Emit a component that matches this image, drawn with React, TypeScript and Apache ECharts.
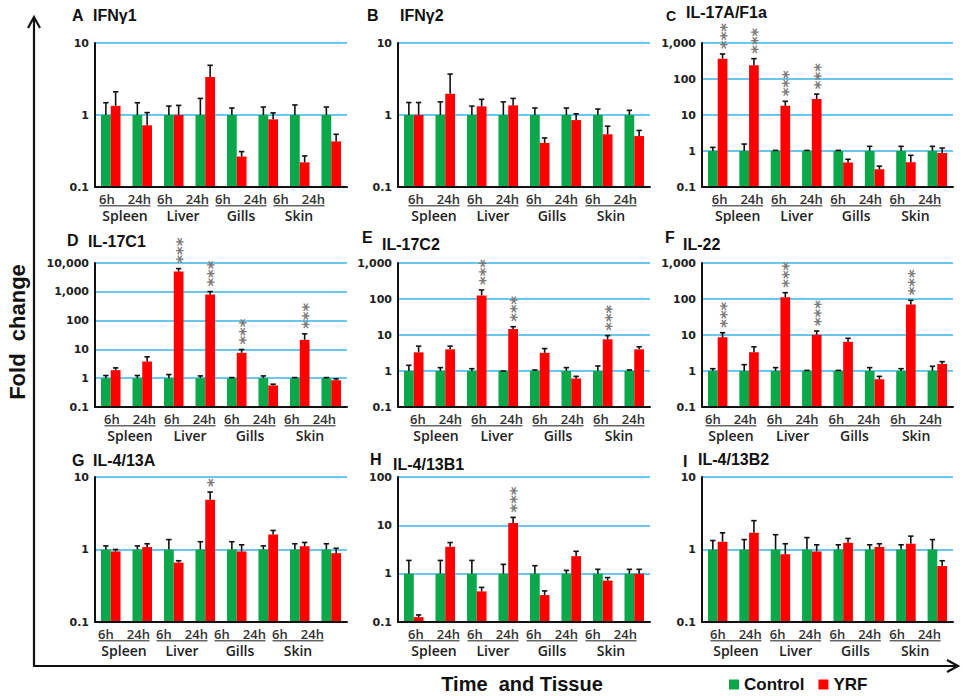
import React, { useEffect, useRef } from 'react';
import * as echarts from 'echarts';

// ---------- data ----------
const categories = ['Spleen 6h', 'Spleen 24h', 'Liver 6h', 'Liver 24h', 'Gills 6h', 'Gills 24h', 'Skin 6h', 'Skin 24h'];
const tissues = ['Spleen', 'Liver', 'Gills', 'Skin'];
const timeLabels = ['6h', '24h'];
const seriesNames = ['Control', 'YRF'];

const controlValues = [1, 1, 1, 1, 1, 1, 1, 1];

// A IFNγ1
const ifng1CtrlErr = [1.48, 1.48, 1.33, 1.7, 1.25, 1.29, 1.38, 1.29];
const ifng1Yrf = [1.34, 0.72, 1.0, 3.36, 0.265, 0.87, 0.22, 0.43];
const ifng1YrfErr = [2.1, 1.08, 1.36, 4.9, 0.31, 1.07, 0.27, 0.54];
const ifng1Sig = [0, 0, 0, 0, 0, 0, 0, 0];

// B IFNγ2
const ifng2CtrlErr = [1.49, 1.52, 1.33, 1.52, 1.25, 1.25, 1.21, 1.16];
const ifng2Yrf = [1.0, 1.98, 1.32, 1.36, 0.41, 0.85, 0.54, 0.51];
const ifng2YrfErr = [1.49, 3.7, 1.65, 1.7, 0.48, 1.04, 0.7, 0.61];
const ifng2Sig = [0, 0, 0, 0, 0, 0, 0, 0];

// C IL-17A/F1a
const il17aCtrlErr = [1.26, 1.56, 1.04, 1.04, 1.04, 1.35, 1.35, 1.35];
const il17aYrf = [367, 240, 18, 28, 0.48, 0.31, 0.49, 0.88];
const il17aYrfErr = [495, 367, 24, 38, 0.59, 0.38, 0.76, 1.21];
const il17aSig = [3, 3, 3, 3, 0, 0, 0, 0];

// D IL-17C1
const il17c1CtrlErr = [1.24, 1.24, 1.34, 1.2, 1.05, 1.2, 1.05, 1.05];
const il17c1Yrf = [1.9, 3.8, 5050, 800, 7.6, 0.56, 21.5, 0.85];
const il17c1YrfErr = [2.28, 5.5, 6400, 1020, 9.9, 0.62, 34.6, 0.95];
const il17c1Sig = [0, 0, 3, 3, 3, 0, 3, 0];

// E IL-17C2
const il17c2CtrlErr = [1.44, 1.24, 1.16, 1.0, 1.07, 1.24, 1.38, 1.07];
const il17c2Yrf = [3.3, 4.0, 126, 14.7, 3.2, 0.62, 7.6, 4.0];
const il17c2YrfErr = [4.9, 4.9, 178, 17, 4.2, 0.71, 9.6, 4.7];
const il17c2Sig = [0, 0, 3, 3, 0, 0, 3, 0];

// F IL-22
const il22CtrlErr = [1.16, 1.5, 1.24, 1.04, 1.04, 1.24, 1.16, 1.35];
const il22Yrf = [8.6, 3.3, 111, 10.2, 6.5, 0.59, 70, 1.57];
const il22YrfErr = [11.6, 4.7, 150, 12.9, 8.1, 0.71, 92, 1.82];
const il22Sig = [3, 0, 3, 3, 0, 0, 3, 0];

// G IL-4/13A
const il413aCtrlErr = [1.12, 1.12, 1.37, 1.28, 1.28, 1.12, 1.2, 1.2];
const il413aYrf = [0.94, 1.08, 0.66, 4.86, 0.94, 1.61, 1.11, 0.89];
const il413aYrfErr = [1.0, 1.2, 0.7, 6.2, 1.16, 1.83, 1.25, 1.04];
const il413aSig = [0, 0, 0, 1, 0, 0, 0, 0];

// H IL-4/13B1
const il413b1CtrlErr = [1.88, 1.88, 1.88, 1.56, 1.46, 1.17, 1.23, 1.23];
const il413b1Yrf = [0.126, 3.6, 0.43, 11.2, 0.36, 2.3, 0.72, 1.0];
const il413b1YrfErr = [0.14, 4.4, 0.52, 14.6, 0.44, 2.9, 0.83, 1.23];
const il413b1Sig = [0, 0, 0, 3, 0, 0, 0, 0];

// I IL-4/13B2
const il413b2CtrlErr = [1.33, 1.37, 1.6, 1.46, 1.16, 1.16, 1.16, 1.37];
const il413b2Yrf = [1.28, 1.7, 0.86, 0.94, 1.24, 1.08, 1.2, 0.59];
const il413b2YrfErr = [1.7, 2.5, 1.2, 1.16, 1.42, 1.2, 1.53, 0.7];
const il413b2Sig = [0, 0, 0, 0, 0, 0, 0, 0];

const panelLetters = ['A', 'B', 'C', 'D', 'E', 'F', 'G', 'H', 'I'];
const panelNames = ['IFNγ1', 'IFNγ2', 'IL-17A/F1a', 'IL-17C1', 'IL-17C2', 'IL-22', 'IL-4/13A', 'IL-4/13B1', 'IL-4/13B2'];
const yMaxes = [10, 10, 1000, 10000, 1000, 1000, 10, 100, 10];
const Y_MIN = 0.1;

const panelData = [
  [ifng1CtrlErr, ifng1Yrf, ifng1YrfErr, ifng1Sig],
  [ifng2CtrlErr, ifng2Yrf, ifng2YrfErr, ifng2Sig],
  [il17aCtrlErr, il17aYrf, il17aYrfErr, il17aSig],
  [il17c1CtrlErr, il17c1Yrf, il17c1YrfErr, il17c1Sig],
  [il17c2CtrlErr, il17c2Yrf, il17c2YrfErr, il17c2Sig],
  [il22CtrlErr, il22Yrf, il22YrfErr, il22Sig],
  [il413aCtrlErr, il413aYrf, il413aYrfErr, il413aSig],
  [il413b1CtrlErr, il413b1Yrf, il413b1YrfErr, il413b1Sig],
  [il413b2CtrlErr, il413b2Yrf, il413b2YrfErr, il413b2Sig],
];

// ---------- layout ----------
const colLeft = [95, 398, 702];
const colWidth = [252, 252, 251];
const rowTop = [43, 263, 477];
const rowHeight = [144, 144, 145];
const labelGrid = [
  [96, 232], [404.5, 236], [708, 237],
  [100, 240], [405.5, 244], [700, 247],
  [95, 232], [404.5, 236], [706, 239],
];
const letterPos = [
  [72, 15], [367, 15], [666, 16],
  [67, 240], [362, 237], [665, 237],
  [72, 460], [370, 459], [683, 461],
];
const namePos = [
  [93, 15], [400, 15], [686, 12],
  [88, 241], [382, 244], [683, 244],
  [93, 460], [393, 464], [698, 459],
];

const GREEN = '#0aa84b';
const RED = '#fe0000';
const BLUE = '#3ab6e6';
const INK = '#111';

const makeRender = (side: number, color: string) => (params: any, api: any) => {
  const k = api.value(0) as number;
  const v = api.value(1) as number;
  const e = api.value(2) as number;
  const s = api.value(3) as number;
  const top = api.coord([k, v]);
  const base = api.coord([k, Y_MIN]);
  const errPt = api.coord([k, e]);
  const band = (api.size([1, 1]) as number[])[0];
  const bw = band * 0.31;
  const cx = top[0] + (side * bw) / 2;
  const children: any[] = [
    { type: 'rect', shape: { x: cx - bw / 2, y: top[1], width: bw, height: base[1] - top[1] }, style: { fill: color } },
    { type: 'line', shape: { x1: cx, y1: top[1], x2: cx, y2: errPt[1] }, style: { stroke: INK, lineWidth: 1.6 } },
    { type: 'line', shape: { x1: cx - 2.7, y1: errPt[1], x2: cx + 2.7, y2: errPt[1] }, style: { stroke: INK, lineWidth: 1.6 } },
  ];
  if (s > 0) {
    // significance stars, stacked upward as one rotated line of text
    children.push({
      type: 'text',
      x: cx + 3.6,
      y: errPt[1] - 5,
      rotation: Math.PI / 2,
      style: {
        text: '*'.repeat(s), x: 0, y: 0,
        fill: '#7a7a7a', fontSize: 16.5, fontWeight: 'bold', fontFamily: 'DejaVu Sans',
        align: 'left', verticalAlign: 'middle',
      },
    });
  }
  return { type: 'group', children };
};

const fmtY = (v: number) => (v < 1 ? '0.1' : Math.round(v).toLocaleString('en-US'));

function buildOption() {
  const grid: any[] = [];
  const xAxis: any[] = [];
  const yAxis: any[] = [];
  const series: any[] = [];
  const graphic: any[] = [];

  for (let i = 0; i < 9; i++) {
    const r = Math.floor(i / 3);
    const c = i % 3;
    grid.push({ left: colLeft[c], top: rowTop[r], width: colWidth[c], height: rowHeight[r] });
    xAxis.push({
      gridIndex: i, type: 'category', data: categories, z: 5,
      axisLine: { onZero: false, lineStyle: { color: INK, width: 2 } },
      axisTick: { show: false }, axisLabel: { show: false }, splitLine: { show: false },
    });
    yAxis.push({
      gridIndex: i, type: 'log', logBase: 10, min: Y_MIN, max: yMaxes[i],
      axisLine: { show: true, lineStyle: { color: INK, width: 2 } },
      axisTick: { show: false },
      splitLine: { show: true, lineStyle: { color: BLUE, width: 1.6 } },
      axisLabel: { formatter: fmtY, fontFamily: 'DejaVu Sans', fontWeight: 'bold', fontSize: 11, color: '#222', margin: 6 },
    });
    const [ctrlErr, yrf, yrfErr, sig] = panelData[i];
    series.push({
      type: 'custom', name: seriesNames[0], xAxisIndex: i, yAxisIndex: i,
      itemStyle: { color: GREEN }, encode: { x: 0, y: 1 },
      data: categories.map((_, k) => [k, controlValues[k], ctrlErr[k], 0]),
      renderItem: makeRender(-1, GREEN),
    });
    series.push({
      type: 'custom', name: seriesNames[1], xAxisIndex: i, yAxisIndex: i,
      itemStyle: { color: RED }, encode: { x: 0, y: 1 },
      data: categories.map((_, k) => [k, yrf[k], yrfErr[k], sig[k]]),
      renderItem: makeRender(1, RED),
    });
    graphic.push({
      type: 'text', x: letterPos[i][0], y: letterPos[i][1],
      style: { text: panelLetters[i], fill: INK, fontSize: i === 2 ? 14 : 16, fontWeight: 'bold', fontFamily: 'Liberation Sans', align: 'left', verticalAlign: 'middle' },
    });
    graphic.push({
      type: 'text', x: namePos[i][0], y: namePos[i][1],
      style: { text: panelNames[i], fill: INK, fontSize: 16, fontWeight: 'bold', fontFamily: 'Liberation Sans', align: 'left', verticalAlign: 'middle' },
    });
  }
  // label grids (tissue groups with time labels)
  for (let i = 0; i < 9; i++) {
    const r = Math.floor(i / 3);
    const gi = 9 + i;
    grid.push({ left: labelGrid[i][0], top: rowTop[r], width: labelGrid[i][1], height: rowHeight[r] });
    xAxis.push({
      gridIndex: gi, type: 'category', data: tissues,
      axisLine: { show: false }, axisTick: { show: false }, splitLine: { show: false },
      axisLabel: {
        interval: 0, margin: 5,
        formatter: (v: string) => `{h|${timeLabels[0]}}{s| }{h|${timeLabels[1]}}\n{u| }\n{t|${v}}`,
        rich: {
          h: { fontFamily: 'Open Sans', fontWeight: 600, fontSize: 13, lineHeight: 13, color: '#333' },
          s: { width: 13, fontSize: 13, lineHeight: 13 },
          u: { width: 51, height: 1.5, lineHeight: 1.5, fontSize: 1, backgroundColor: '#666' },
          t: { fontFamily: 'Open Sans', fontWeight: 600, fontSize: 14, lineHeight: 17, color: '#222' },
        },
      },
    });
    yAxis.push({ gridIndex: gi, type: 'value', show: false });
  }

  graphic.push(
    { type: 'line', shape: { x1: 34, y1: 18, x2: 34, y2: 666 }, style: { stroke: INK, lineWidth: 2.2 } },
    { type: 'polyline', shape: { points: [[28, 28], [34, 17], [40, 28]] }, style: { stroke: INK, lineWidth: 2.2, fill: null } },
    { type: 'line', shape: { x1: 33, y1: 666, x2: 957, y2: 666 }, style: { stroke: INK, lineWidth: 2.2 } },
    { type: 'polyline', shape: { points: [[947, 660], [958, 666], [947, 672]] }, style: { stroke: INK, lineWidth: 2.2, fill: null } },
    {
      type: 'text', x: 17, y: 332, rotation: Math.PI / 2,
      style: { text: 'Fold  change', fill: INK, fontSize: 22, fontWeight: 'bold', fontFamily: 'Liberation Sans', align: 'center', verticalAlign: 'middle' },
    },
    {
      type: 'text', x: 522, y: 684,
      style: { text: 'Time  and Tissue', fill: INK, fontSize: 20, fontWeight: 'bold', fontFamily: 'Liberation Sans', align: 'center', verticalAlign: 'middle' },
    },
  );

  return {
    animation: false,
    backgroundColor: '#fff',
    legend: {
      data: seriesNames, left: 729, top: 676, icon: 'rect', itemWidth: 10, itemHeight: 10, itemGap: 14, padding: 0,
      textStyle: { fontSize: 17, fontWeight: 'bold', fontFamily: 'Liberation Sans', color: INK },
    },
    grid, xAxis, yAxis, series, graphic,
  };
}

export default function App() {
  const ref = useRef<HTMLDivElement>(null);
  useEffect(() => {
    if (!ref.current) return;
    const chart = echarts.init(ref.current, undefined, { renderer: 'svg' });
    chart.setOption(buildOption() as any);
    return () => chart.dispose();
  }, []);
  return <div ref={ref} style={{ position: 'fixed', left: 0, top: 0, width: 963, height: 696, background: '#fff' }} />;
}
